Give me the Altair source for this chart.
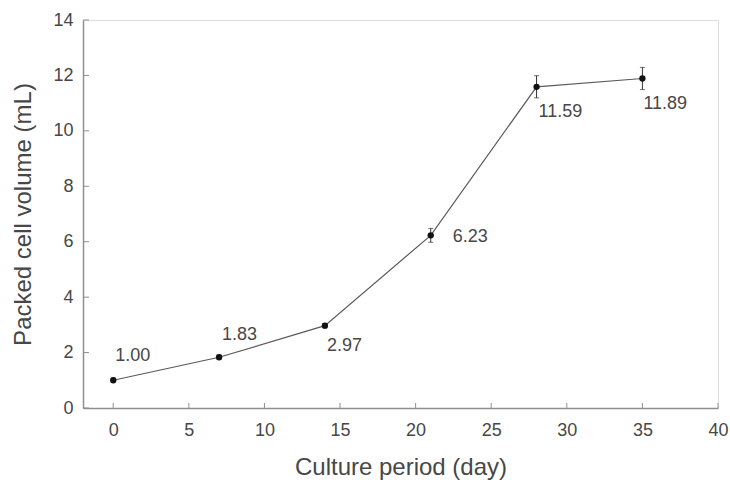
import altair as alt
import pandas as pd

days = [0, 7, 14, 21, 28, 35]
volume = [1.00, 1.83, 2.97, 6.23, 11.59, 11.89]
err = [0.08, 0.08, 0.08, 0.25, 0.4, 0.4]
labels = ["1.00", "1.83", "2.97", "6.23", "11.59", "11.89"]
x_ticks = [0, 5, 10, 15, 20, 25, 30, 35, 40]
y_ticks = [0, 2, 4, 6, 8, 10, 12, 14]

# label placement (pixel offsets from each point), kept apart from the data
LABEL_OFFSETS = {"1.00": (2, -24), "1.83": (3, -22), "2.97": (2, 20),
                 "6.23": (22, 2), "11.59": (2, 25), "11.89": (1, 26)}

df = pd.DataFrame({"day": days, "vol": volume, "lo": [v - e for v, e in zip(volume, err)],
                   "hi": [v + e for v, e in zip(volume, err)], "label": labels})
xt = pd.DataFrame({"t": x_ticks})
yt = pd.DataFrame({"t": y_ticks})

W, H = 635, 388
FONT = "Liberation Sans"
GRAY = "#8f8f8f"
TXT = "#474747"

xscale = alt.Scale(domain=[-2, 40], nice=False, zero=False)
yscale = alt.Scale(domain=[0, 14], nice=False)

xaxis = alt.Axis(values=x_ticks, title="Culture period (day)", tickSize=0, labelPadding=13,
                 labelFlush=False, labelBound=False, labelOverlap=False,
                 grid=False, domainColor=GRAY, domainWidth=1.5, labelFont=FONT, labelFontSize=18,
                 labelColor=TXT, titleFont=FONT, titleFontSize=24, titleFontWeight="normal",
                 titleColor=TXT, titlePadding=16)
yaxis = alt.Axis(values=y_ticks, title="Packed cell volume (mL)", tickSize=0, labelPadding=10,
                 labelFlush=False, labelOverlap=False,
                 grid=False, domainColor=GRAY, domainWidth=1.5, labelFont=FONT, labelFontSize=18,
                 labelColor=TXT, titleFont=FONT, titleFontSize=24, titleFontWeight="normal",
                 titleColor=TXT, titlePadding=17)

base = alt.Chart(df)

line = base.mark_line(color="#5a5a5a", strokeWidth=1.2).encode(
    x=alt.X("day:Q", scale=xscale, axis=xaxis),
    y=alt.Y("vol:Q", scale=yscale, axis=yaxis),
)
bars = base.mark_rule(color="#333333", strokeWidth=1).encode(
    x="day:Q", y="lo:Q", y2="hi:Q")
caps_hi = base.mark_tick(color="#333333", size=5, thickness=1, orient="horizontal").encode(
    x="day:Q", y="hi:Q")
caps_lo = base.mark_tick(color="#333333", size=5, thickness=1, orient="horizontal").encode(
    x="day:Q", y="lo:Q")
pts = base.mark_circle(color="#111111", opacity=1, size=40).encode(x="day:Q", y="vol:Q")

text_layers = []
for lab, (dx, dy) in LABEL_OFFSETS.items():
    text_layers.append(
        base.transform_filter(alt.datum.label == lab).mark_text(
            dx=dx, dy=dy, font=FONT, fontSize=18, color=TXT, align="left", baseline="middle"
        ).encode(x="day:Q", y="vol:Q", text="label:N")
    )

xt_marks = alt.Chart(xt).mark_rule(color=GRAY, strokeWidth=1).encode(
    x=alt.X("t:Q", scale=xscale), y=alt.value(H), y2=alt.value(H - 5))
yt_marks = alt.Chart(yt).mark_rule(color=GRAY, strokeWidth=1).encode(
    y=alt.Y("t:Q", scale=yscale), x=alt.value(0), x2=alt.value(6))

chart = alt.layer(line, bars, caps_hi, caps_lo, pts, *text_layers, xt_marks, yt_marks).properties(
    width=W, height=H,
    autosize=alt.AutoSizeParams(type="none"),
    padding={"left": 83, "top": 20, "right": 12, "bottom": 75},
).configure_view(stroke=GRAY, strokeWidth=1.5).configure(background="white")

chart.save("out.html", embed_options={"renderer": "svg", "actions": False})
